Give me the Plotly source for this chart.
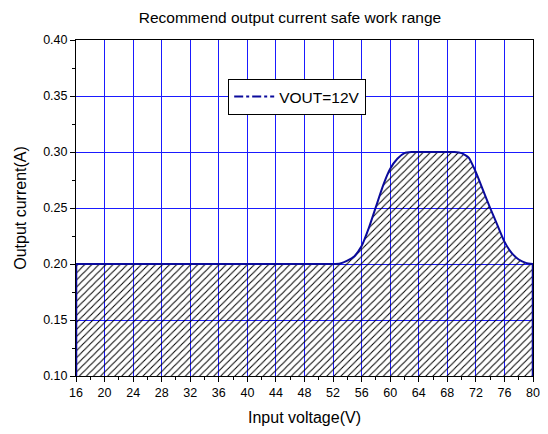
import plotly.graph_objects as go

# Data
vin = [16, 52, 53, 54, 55, 56, 57, 58, 59, 60, 61, 62, 63, 64, 68, 69, 70, 71,
       72, 73, 74, 75, 76, 77, 78, 79, 80]
iout = [0.200, 0.200, 0.2005, 0.203, 0.207, 0.216, 0.232, 0.251, 0.270, 0.285,
        0.294, 0.299, 0.300, 0.300, 0.300, 0.300, 0.299, 0.295, 0.282, 0.266,
        0.250, 0.235, 0.220, 0.210, 0.204, 0.201, 0.200]
series_name = "VOUT=12V"
x_ticks = list(range(16, 81, 4))
y_ticks = [0.10, 0.15, 0.20, 0.25, 0.30, 0.35, 0.40]

line_color = "#0a0a9c"
grid_color = "#1a1aff"
font_family = "Liberation Sans, Arial, sans-serif"

fig = go.Figure()

# Hatched area under the curve
fig.add_trace(go.Scatter(
    x=vin, y=iout, mode="lines",
    line=dict(color=line_color, width=2, shape="spline", smoothing=0.5),
    fill="tozeroy",
    fillcolor="rgba(0,0,0,0)",
    fillpattern=dict(shape="/", fgcolor="black", bgcolor="rgba(0,0,0,0)",
                     size=5, solidity=0.2, fillmode="replace"),
    showlegend=False, hoverinfo="skip",
))
# Edges at both ends from 0.2 down to the axis
fig.add_trace(go.Scatter(x=[vin[0], vin[0]], y=[0.1, iout[0]], mode="lines",
                         line=dict(color=line_color, width=2.5),
                         showlegend=False, hoverinfo="skip"))
fig.add_trace(go.Scatter(x=[vin[-1], vin[-1]], y=[0.1, iout[-1]], mode="lines",
                         line=dict(color=line_color, width=2.5),
                         showlegend=False, hoverinfo="skip"))
# Legend entry (dash-dot as in the reference legend)
fig.add_trace(go.Scatter(x=[None], y=[None], mode="lines", name=series_name,
                         line=dict(color=line_color, width=2, dash="dashdot")))

# The page has an 8px body margin, so the figure is sized to fit the window
fig.update_layout(
    width=532, height=418,
    margin=dict(l=68, r=7, t=32, b=50, autoexpand=False),
    paper_bgcolor="white", plot_bgcolor="white",
    font=dict(family=font_family, color="black", size=12),
    title=dict(text="Recommend output current safe work range",
               x=0.53, xanchor="center", y=0.978, yanchor="middle",
               font=dict(size=15.5)),
    legend=dict(x=0.333, y=0.884, xanchor="left", yanchor="top",
                bgcolor="white", bordercolor="black", borderwidth=1,
                font=dict(size=15.5), itemwidth=40,
                tracegroupgap=0),
)
fig.update_xaxes(
    range=[16, 80], tickvals=x_ticks, showgrid=True, gridcolor=grid_color,
    gridwidth=1, showline=True, linecolor="black", linewidth=1, mirror=True,
    ticks="outside", ticklen=5, tickcolor="black",
    minor=dict(dtick=2, ticks="outside", ticklen=3, tickcolor="black", showgrid=False),
    title=dict(text="Input voltage(V)", font=dict(size=16), standoff=14),
    tickfont=dict(size=12.5), automargin=False,
    zeroline=False,
)
fig.update_yaxes(
    range=[0.1, 0.4], tickvals=y_ticks, tickformat=".2f", showgrid=True,
    gridcolor=grid_color, gridwidth=1, showline=True, linecolor="black",
    linewidth=1, mirror=True, ticks="outside", ticklen=5, tickcolor="black",
    minor=dict(dtick=0.025, ticks="outside", ticklen=3, tickcolor="black", showgrid=False),
    title=dict(text="Output current(A)", font=dict(size=16), standoff=12),
    tickfont=dict(size=12.5), automargin=False,
    zeroline=False,
)

fig.write_html("out.html")
